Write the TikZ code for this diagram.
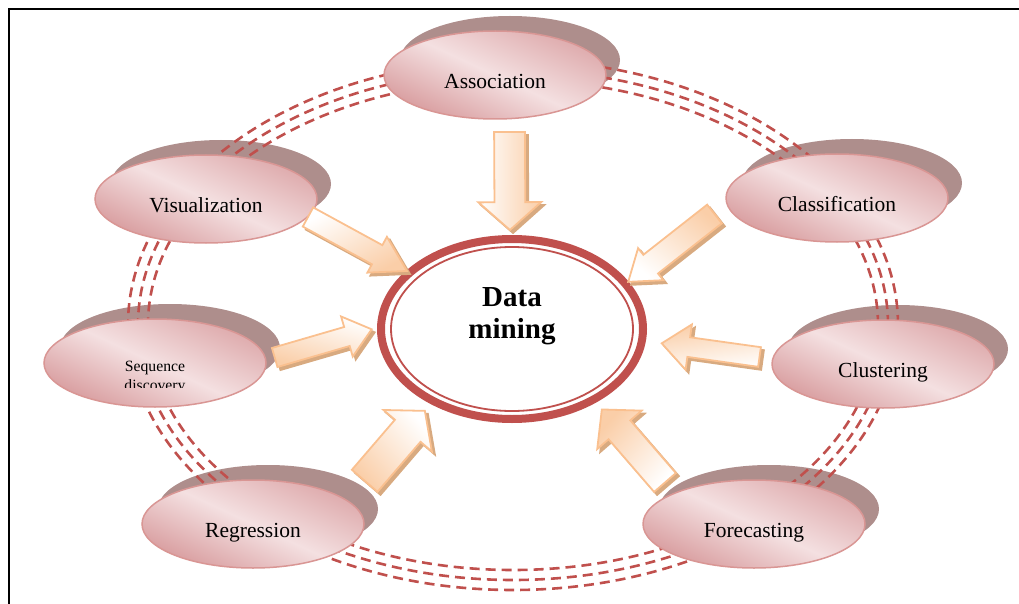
\documentclass[tikz,border=0pt]{standalone}
\usepackage{fontspec}
\setmainfont{Liberation Serif}
\usetikzlibrary{shapes.geometric,shapes.arrows,calc}

\definecolor{ringred}{RGB}{192,80,77}
\definecolor{topicedge}{RGB}{217,150,148}
\definecolor{topicdark}{RGB}{216,156,158}
\definecolor{topiclight}{RGB}{244,224,225}
\definecolor{topicshade}{RGB}{174,142,140}
\definecolor{arrowedge}{RGB}{250,192,143}
\definecolor{arrowfill}{RGB}{250,206,168}
\definecolor{arrowshade}{RGB}{216,170,128}

\pgfdeclarelayer{shadows}
\pgfdeclarelayer{ring}
\pgfsetlayers{shadows,ring,main}

% fat arrow: name, tail, tip, half shaft, head extension, tip angle
\newcommand\flowarrow[6]{%
	\path (#2) coordinate (#1 tail) (#3) coordinate (#1 tip);
	\path let \p1=($(#1 tip)-(#1 tail)$), \n1={atan2(\y1,\x1)}, \n2={veclen(\x1,\y1)}, \n3={-atan2(\y1,\x1)} in
		node[flowshade, rotate=\n1, minimum height=\n2, inner ysep=#4, single arrow head extend=#5, single arrow tip angle=#6] (#1 shade) at ([shift={(3,3)}]#1 tail) {}
		node[flowbody, rotate=\n1, shading angle=\n3, minimum height=\n2, inner ysep=#4, single arrow head extend=#5, single arrow tip angle=#6] (#1) at (#1 tail) {};
}

\begin{document}
\begin{tikzpicture}[x=1pt,y=-1pt]
			\tikzset{topic/.style={ellipse,draw=topicedge,line width=1.5pt,minimum width=222pt,minimum height=88pt,inner sep=0pt,
				top color=topicdark!80!topiclight,bottom color=topicdark,middle color=topiclight,shading angle=-25,
				font=\fontsize{21.5}{24}\selectfont,text height=27pt,text depth=0pt}}
			\tikzset{flowbody/.style={single arrow,anchor=tail,draw=arrowedge,line width=1.8pt,top color=white,bottom color=arrowfill,
				inner xsep=0pt,minimum width=0pt,outer sep=0pt,text height=0pt,text depth=0pt}}
			\tikzset{flowshade/.style={single arrow,anchor=tail,draw=arrowshade,fill=arrowshade,line width=1.8pt,
				inner xsep=0pt,minimum width=0pt,outer sep=0pt,text height=0pt,text depth=0pt}}
			\tikzset{ringdash/.style={draw=ringred,line width=2.6pt,dash pattern=on 10pt off 6pt}}
			\useasboundingbox (0,0) rectangle (1019,604);
			\draw[line width=1.5pt] (9,604) -- (9,9) -- (1019,9);

			% the hub
			\node[ellipse,draw=ringred,line width=8pt,fill=white,minimum width=262pt,minimum height=180pt] (dm) at (512,329) {};
			\node[ellipse,draw=ringred,line width=1.8pt,minimum width=242pt,minimum height=164pt] (dm-inner) at (dm) {};
			\node[font=\fontsize{29}{32}\selectfont\bfseries,align=center] (dm-text) at ([yshift=13pt]dm.center) {Data\\mining};

			% the seven tasks round it
			\node[topic] (assoc) at (495,75) {Association};
			\node[topic] (vis) at (206,199) {Visualization};
			\node[topic] (class) at (837,198) {Classification};
			\node[topic] (seq) at (155,363) {};
			\node[topic] (clus) at (883,364) {Clustering};
			\node[topic] (regr) at (253,524) {Regression};
			\node[topic] (fore) at (754,524) {Forecasting};
			\begin{scope}
				\clip ([yshift=8pt]seq.north west) rectangle ([yshift=-24.5pt]seq.east);
				\node[font=\fontsize{15.7}{19}\selectfont,align=center] (seq-text) at ([yshift=-14.7pt]seq.center) {Sequence\\discovery};
			\end{scope}

			\begin{pgfonlayer}{shadows}
				\foreach \n in {assoc,vis,class,seq,clus,regr,fore}
					\fill[topicshade] ([shift={(15,-15)}]\n.center) ellipse [x radius=110pt,y radius=44pt];
			\end{pgfonlayer}

			\begin{pgfonlayer}{ring}
				\coordinate (hub) at ($(dm)+(1,-4)$);
				\foreach \rx/\ry in {365/245,375/255,385/265}
					\draw[ringdash] (hub) ellipse [x radius=\rx pt,y radius=\ry pt];
			\end{pgfonlayer}

			% arrows into the hub
			\flowarrow{assoc-in}{$(assoc)+(14.5,57)$}{$(dm)+(-2,-99)$}{14.5pt}{16pt}{97}
			\flowarrow{vis-in}{$(vis)+(102,18)$}{$(dm)+(-105,-58)$}{10pt}{9.5pt}{62}
			\flowarrow{class-in}{$(class)+(-122.5,16)$}{$(dm)+(116,-47)$}{11pt}{8.5pt}{71}
			\flowarrow{seq-in}{$(seq)+(119.7,-5.5)$}{$(dm)+(-140.3,0.3)$}{9pt}{11pt}{78}
			\flowarrow{clus-in}{$(clus)+(-123.5,-7)$}{$(dm)+(149.7,14.3)$}{9pt}{13pt}{80}
			\flowarrow{regr-in}{$(regr)+(111.7,-43.2)$}{$(dm)+(-87,81.7)$}{16pt}{15pt}{101}
			\flowarrow{fore-in}{$(fore)+(-89,-41.5)$}{$(dm)+(89.7,80.3)$}{13.5pt}{15pt}{95}
\end{tikzpicture}
\end{document}
